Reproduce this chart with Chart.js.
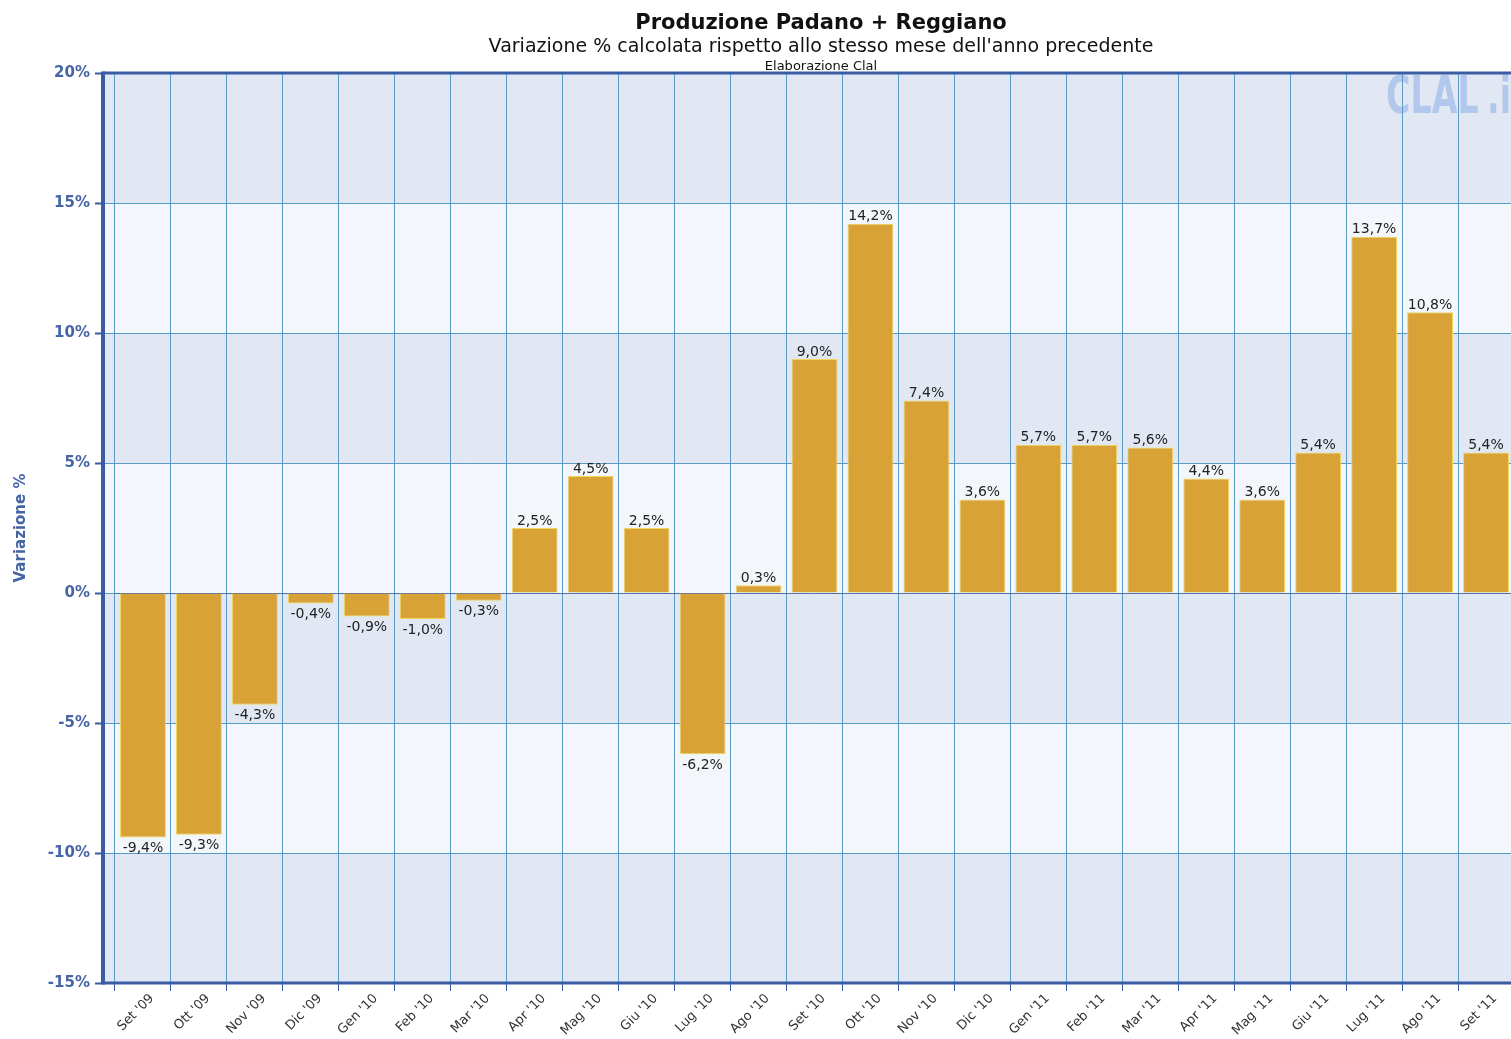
<!DOCTYPE html>
<html>
<head>
<meta charset="utf-8">
<script src="https://cdn.jsdelivr.net/npm/chart.js@4/dist/chart.umd.min.js"></script>
<style>
  html, body { margin: 0; padding: 0; background: #fff; overflow: hidden; }
  #wrap { position: relative; width: 1530px; height: 1039px; }
</style>
</head>
<body>
<div id="wrap"><canvas id="chart"></canvas></div>
<script>
// months shown on the x axis
const months = ["Set '09", "Ott '09", "Nov '09", "Dic '09", "Gen '10", "Feb '10", "Mar '10", "Apr '10",
  "Mag '10", "Giu '10", "Lug '10", "Ago '10", "Set '10", "Ott '10", "Nov '10", "Dic '10", "Gen '11",
  "Feb '11", "Mar '11", "Apr '11", "Mag '11", "Giu '11", "Lug '11", "Ago '11", "Set '11"];

// % change vs same month of previous year
const variazione = [-9.4, -9.3, -4.3, -0.4, -0.9, -1.0, -0.3, 2.5, 4.5, 2.5, -6.2, 0.3, 9.0, 14.2,
  7.4, 3.6, 5.7, 5.7, 5.6, 4.4, 3.6, 5.4, 13.7, 10.8, 5.4];

const yMin = -15;
const yMax = 20;
const yStep = 5;

const titleText = 'Produzione Padano + Reggiano';
const subtitleText = "Variazione % calcolata rispetto allo stesso mese dell'anno precedente";
const creditText = 'Elaborazione Clal';

const AXIS_BLUE = '#3b5ca3';
const GRID_BLUE = '#5a9bc6';
const GAP = 12; // space between the y axis line and the first category

const fmt = v => v.toFixed(1).replace('.', ',') + '%';

// background bands, watermark, titles, axis lines, value labels
const decor = {
  id: 'decor',
  beforeDraw(chart) {
    const { ctx, chartArea: a, scales: { y } } = chart;
    const x0 = a.left - GAP;
    ctx.save();
    for (let v = yMin, i = 0; v < yMax; v += yStep, i++) {
      const top = y.getPixelForValue(v + yStep);
      const bot = y.getPixelForValue(v);
      ctx.fillStyle = i % 2 === 0 ? '#e1e8f3' : '#f3f6fa';
      ctx.fillRect(x0, top, a.right - x0, bot - top);
    }
    // watermark (squeezed horizontally)
    ctx.save();
    ctx.fillStyle = 'rgba(160, 188, 232, 0.75)';
    ctx.font = 'bold 52px "DejaVu Sans"';
    ctx.textAlign = 'left';
    ctx.textBaseline = 'alphabetic';
    ctx.translate(1386, 113);
    ctx.scale(0.64, 1);
    ctx.fillText('CLAL', 0, 0);
    ctx.fillText('.it', 158, 0);
    ctx.restore();

    // titles
    ctx.fillStyle = '#111';
    ctx.textAlign = 'center';
    ctx.font = 'bold 21px "DejaVu Sans"';
    ctx.fillText(titleText, 821, 29);
    ctx.font = '19px "DejaVu Sans"';
    ctx.fillText(subtitleText, 821, 52);
    ctx.font = '13px "DejaVu Sans"';
    ctx.fillText(creditText, 821, 70);
    ctx.restore();
  },
  afterDatasetsDraw(chart) {
    const { ctx, chartArea: a, scales: { y } } = chart;
    const x0 = a.left - GAP;
    ctx.save();
    // value labels
    const meta = chart.getDatasetMeta(0);
    ctx.font = '14px "DejaVu Sans"';
    ctx.fillStyle = '#222';
    ctx.textAlign = 'center';
    meta.data.forEach((bar, i) => {
      const v = variazione[i];
      if (v >= 0) {
        ctx.textBaseline = 'bottom';
        ctx.fillText(fmt(v), bar.x, bar.y);
      } else {
        ctx.textBaseline = 'top';
        ctx.fillText(fmt(v), bar.x, bar.y + 4);
      }
    });
    // axis lines
    ctx.strokeStyle = AXIS_BLUE;
    ctx.lineWidth = 3;
    ctx.beginPath();
    ctx.moveTo(x0, a.top);
    ctx.lineTo(a.right + 20, a.top);
    ctx.moveTo(x0, a.bottom);
    ctx.lineTo(a.right + 20, a.bottom);
    ctx.stroke();
    ctx.lineWidth = 4;
    ctx.beginPath();
    ctx.moveTo(x0, a.top - 1.5);
    ctx.lineTo(x0, a.bottom + 1.5);
    ctx.stroke();
    // short dark ticks on the y axis
    ctx.lineWidth = 2;
    ctx.beginPath();
    for (let v = yMin; v <= yMax; v += yStep) {
      const py = Math.round(y.getPixelForValue(v)) + 0.5;
      ctx.moveTo(a.left - 20, py);
      ctx.lineTo(x0, py);
    }
    ctx.stroke();
    ctx.restore();
  }
};

new Chart(document.getElementById('chart'), {
  type: 'bar',
  data: {
    labels: months,
    datasets: [{
      label: 'Variazione %',
      data: variazione,
      backgroundColor: '#d9a236',
      borderColor: '#f1d65a',
      borderWidth: 1,
      barPercentage: 0.82,
      categoryPercentage: 1
    }]
  },
  options: {
    responsive: true,
    maintainAspectRatio: false,
    animation: false,
    layout: { padding: { top: 73, right: 16, bottom: 0, left: 0 } },
    plugins: {
      legend: { display: false },
      tooltip: { enabled: false }
    },
    scales: {
      x: {
        offset: true,
        grid: { offset: true, color: GRID_BLUE, tickColor: AXIS_BLUE, tickLength: 8, lineWidth: 1 },
        border: { display: false },
        ticks: {
          autoSkip: false, maxRotation: 45, minRotation: 45, labelOffset: 9, padding: 0,
          color: '#333', font: { family: 'DejaVu Sans', size: 13 }
        },
        afterFit(scale) { scale.height = 56; }
      },
      y: {
        min: yMin,
        max: yMax,
        grid: {
          color: ctx => ctx.tick && ctx.tick.value === 0 ? '#4f72ab' : GRID_BLUE,
          tickColor: GRID_BLUE, tickLength: 20, lineWidth: 1
        },
        border: { display: false },
        ticks: {
          stepSize: yStep, padding: 5, color: '#4565a5',
          font: { family: 'DejaVu Sans', size: 15, weight: 'bold' },
          callback: v => v + '%'
        },
        title: {
          display: true, text: 'Variazione %', color: '#4565a5',
          font: { family: 'DejaVu Sans', size: 15, weight: 'bold' },
          padding: { top: 12, bottom: 0 }
        },
        afterFit(scale) { scale.width = 115; }
      }
    }
  },
  plugins: [decor]
});
</script>
</body>
</html>
